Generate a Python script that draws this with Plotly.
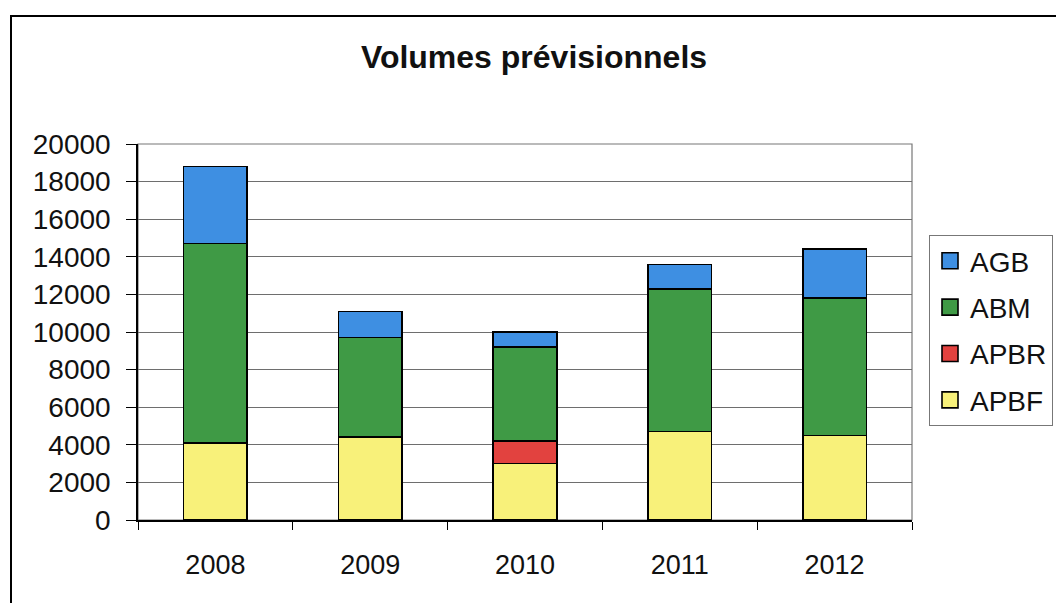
import plotly.graph_objects as go

years = ["2008", "2009", "2010", "2011", "2012"]
apbf = [4100, 4400, 3000, 4700, 4500]
apbr = [0, 0, 1200, 0, 0]
abm = [10600, 5300, 5000, 7600, 7300]
agb = [4100, 1400, 800, 1300, 2600]

series = [
    ("APBF", apbf, "#f8f17a", 4),
    ("APBR", apbr, "#e2423f", 3),
    ("ABM", abm, "#3f9a45", 2),
    ("AGB", agb, "#3e8fe2", 1),
]

FONT = "Liberation Sans, Arial, sans-serif"

fig = go.Figure()
for name, vals, col, rank in series:
    fig.add_trace(go.Bar(
        x=years, y=vals, name=name, legendgroup=name, showlegend=False,
        marker=dict(color=col, line=dict(color="black", width=1.6)),
        width=0.41,
    ))
# legend entries with larger square swatches
for name, vals, col, rank in series:
    fig.add_trace(go.Scatter(
        x=[None], y=[None], mode="markers", name=name, legendgroup=name,
        legendrank=rank, showlegend=True, hoverinfo="skip",
        marker=dict(symbol="square", size=18, color=col,
                    line=dict(color="black", width=1.6)),
    ))

W, H = 1056, 603
L, R, T, B = 138, 1056 - 912, 144, 603 - 520
pw, ph = W - L - R, H - T - B

def px(x):
    return (x - L) / pw

def py(y):
    return (H - B - y) / ph

fig.update_layout(
    width=W, height=H,
    margin=dict(l=L, r=R, t=T, b=B, autoexpand=False),
    barmode="stack",
    paper_bgcolor="white", plot_bgcolor="white",
    font=dict(family=FONT, color="#111", size=27),
    title=dict(text="<b>Volumes prévisionnels</b>", x=534 / W, xanchor="center",
               y=1 - 57 / H, yanchor="middle", yref="container",
               font=dict(size=32, family=FONT, color="#111")),
    legend=dict(x=px(929), xanchor="left", y=py(235), yanchor="top",
                traceorder="grouped", tracegroupgap=7, itemwidth=30,
                itemsizing="trace",
                bordercolor="#777", borderwidth=1, bgcolor="white",
                font=dict(size=28, family=FONT, color="#111")),
    xaxis=dict(showline=True, linecolor="black", linewidth=1.5,
               ticks="outside", tickson="boundaries", ticklen=8, tickcolor="black",
               ticklabelstandoff=20, tickfont=dict(size=27), showgrid=False),
    yaxis=dict(range=[0, 20000], dtick=2000, tickformat="d", showline=True,
               linecolor="black", linewidth=1.5, ticks="outside", ticklen=10,
               tickcolor="black", showgrid=True, gridcolor="#6e6e6e", gridwidth=1,
               tickfont=dict(size=28), ticklabelstandoff=10, zeroline=False),
    showlegend=True,
    bargap=0.59,
)

# plot area frame (gray)
fig.add_shape(type="rect", xref="paper", yref="paper", x0=0, x1=1, y0=0, y1=1,
              line=dict(color="#777", width=1.2), layer="below")
# outer chart frame
fig.add_shape(type="rect", xref="paper", yref="paper",
              x0=px(11), x1=px(1070), y0=py(16), y1=py(620),
              line=dict(color="black", width=2), layer="below")

fig.write_html("out.html", config={"displayModeBar": False},
               post_script="document.body.style.margin='0';document.body.style.overflow='hidden';")
